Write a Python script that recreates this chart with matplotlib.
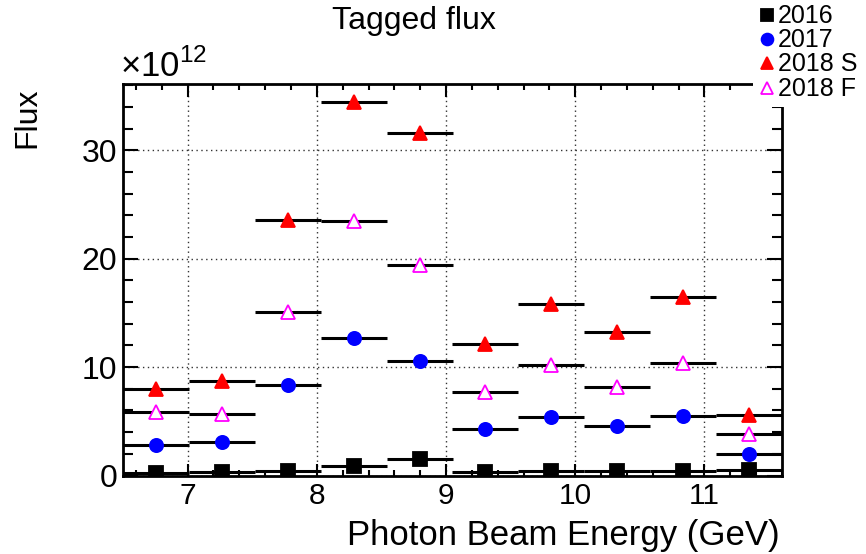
import matplotlib
matplotlib.use("Agg")
import matplotlib.pyplot as plt
from matplotlib.lines import Line2D
from matplotlib.patches import Rectangle
from matplotlib.ticker import MultipleLocator

plt.rcParams["font.family"] = ["Liberation Sans", "DejaVu Sans"]
plt.rcParams["mathtext.fontset"] = "custom"
plt.rcParams["mathtext.rm"] = "Liberation Sans"

# bin centres (GeV), bins are 0.51 GeV wide
energy = [6.755, 7.265, 7.775, 8.285, 8.795, 9.305, 9.815, 10.325, 10.835, 11.345]
half_width = 0.255

# tagged flux in units of 1e12
flux_2016 = [0.25, 0.30, 0.46, 0.86, 1.54, 0.31, 0.40, 0.46, 0.40, 0.53]
flux_2017 = [2.77, 3.07, 8.31, 12.7, 10.6, 4.25, 5.42, 4.59, 5.51, 1.94]
flux_2018s = [7.94, 8.71, 23.52, 34.4, 31.6, 12.16, 15.8, 13.23, 16.46, 5.54]
flux_2018f = [5.85, 5.69, 15.08, 23.5, 19.4, 7.66, 10.15, 8.15, 10.37, 3.85]

series = [
    ("2016", flux_2016, "s", "black", "black"),
    ("2017", flux_2017, "o", "blue", "blue"),
    ("2018 S", flux_2018s, "^", "red", "red"),
    ("2018 F", flux_2018f, "^", "white", "magenta"),
]

W, H = 866, 554
fig = plt.figure(figsize=(W / 100, H / 100), dpi=100)
ax = fig.add_axes([123 / W, 1 - 475.5 / H, (782 - 123) / W, (475.5 - 83.5) / H])

for name, vals, mk, fc, ec in series:
    ax.errorbar(energy, vals, xerr=half_width, fmt="none", ecolor="black",
                elinewidth=2.2, capsize=0, zorder=3)
    ax.plot(energy, vals, ls="none", marker=mk, ms=9.5, mfc=fc, mec=ec,
            mew=1.3, zorder=4)

ax.set_xlim(6.5, 11.6)
ax.set_ylim(0, 36.15)
ax.xaxis.set_major_locator(MultipleLocator(1))
ax.xaxis.set_minor_locator(MultipleLocator(0.2))
ax.yaxis.set_major_locator(MultipleLocator(10))
ax.yaxis.set_minor_locator(MultipleLocator(2))
ax.grid(True, which="major", color="#333333", ls=(0, (1, 2.5)), lw=1)
ax.tick_params(which="both", direction="in", top=True, right=True, width=1.5)
ax.tick_params(axis="x", which="major", length=9, pad=4.5, labelsize=21.5)
ax.tick_params(axis="x", which="minor", length=4.5)
ax.tick_params(axis="y", which="major", length=11, pad=4, labelsize=23)
ax.tick_params(axis="y", which="minor", length=7)
for s in ax.spines.values():
    s.set_linewidth(2)

fig.text(414 / W, 1 - 29 / H, "Tagged flux", ha="center", va="baseline", fontsize=23)
fig.text(780 / W, 1 - 545 / H, "Photon Beam Energy (GeV)", ha="right",
         va="baseline", fontsize=25)
fig.text(42 / W, 1 - 88 / H, "Flux", ha="right", va="top", rotation=90, fontsize=23)
fig.text(120 / W, 1 - 77 / H, r"$\times10^{12}$", ha="left", va="baseline", fontsize=25)

# white legend box covering the frame corner
fig.add_artist(Rectangle((753 / W, 1 - 107 / H), (W - 753) / W, 107 / H,
                         transform=fig.transFigure, facecolor="white",
                         edgecolor="none", zorder=5))
leg_y = [15, 39, 63, 88]
for (name, _, mk, fc, ec), yc in zip(series, leg_y):
    fig.add_artist(Line2D([767 / W], [1 - yc / H], transform=fig.transFigure,
                          ls="none", marker=mk, ms=8.5, mfc=fc, mec=ec, mew=1.3,
                          zorder=6))
    fig.text(778 / W, 1 - (yc + 8) / H, name, ha="left", va="baseline",
             fontsize=18, zorder=6)

fig.savefig("out.png", dpi=100)
